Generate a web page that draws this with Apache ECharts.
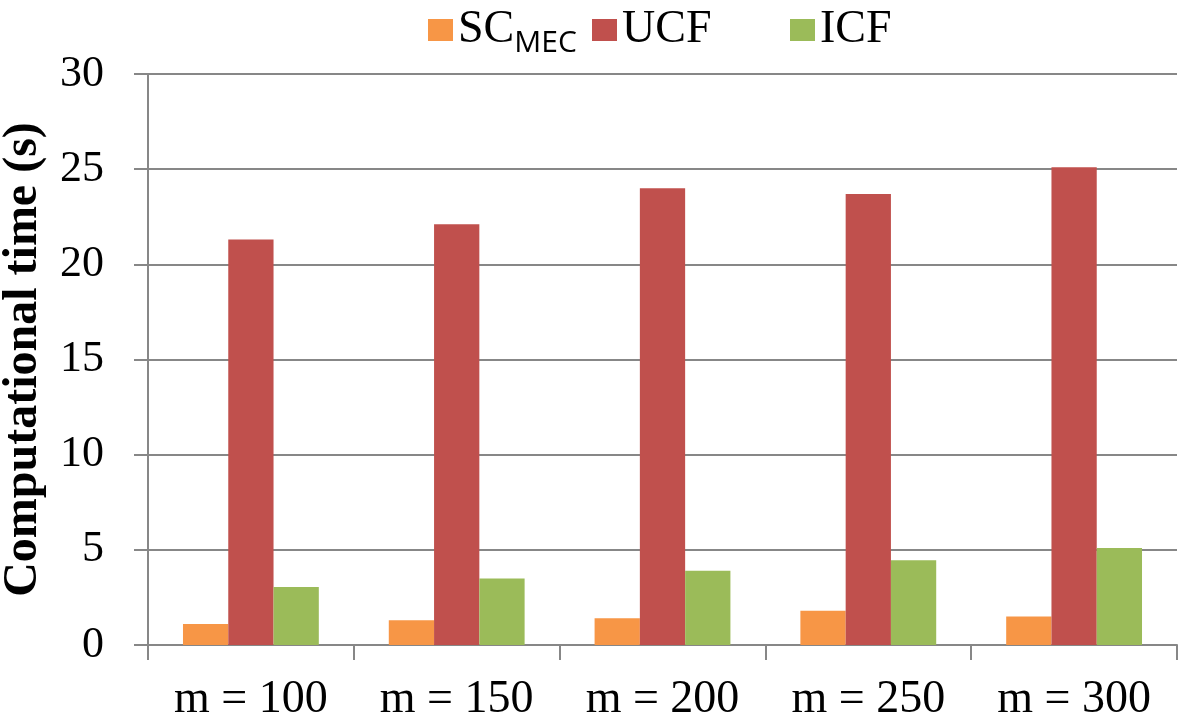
<!DOCTYPE html>
<html><head><meta charset="utf-8">
<script src="https://cdn.jsdelivr.net/npm/echarts@6/dist/echarts.min.js"></script>
<style>html,body{margin:0;padding:0;background:#fff}#c{width:1182px;height:719px}</style>
</head><body><div id="c"></div>
<script>
const categories = ['m = 100', 'm = 150', 'm = 200', 'm = 250', 'm = 300'];
const scMec = [1.1, 1.3, 1.4, 1.8, 1.5];
const ucf = [21.3, 22.1, 24.0, 23.7, 25.1];
const icf = [3.05, 3.5, 3.9, 4.45, 5.1];
const seriesNames = ['SC_MEC', 'UCF', 'ICF'];
const colors = ['#F79646', '#C0504D', '#9BBB59'];

const serif = '"Liberation Serif", "Times New Roman", serif';
const gridColor = '#878787';

const chart = echarts.init(document.getElementById('c'));
const legendBase = {
  top: 2, itemWidth: 25, itemHeight: 22, itemGap: 10,
  icon: 'rect', selectedMode: false,
  textStyle: {
    fontFamily: serif, fontSize: 46, color: '#000', padding: [0,0,0,0],
    rich: {
      main: {fontFamily: serif, fontSize: 46, color: '#000'},
      sub: {fontFamily: '"Open Sans", "Liberation Sans", sans-serif', fontSize: 30, color: '#000', verticalAlign: 'bottom', padding: [26,0,0,0]}
    }
  }
};
chart.setOption({
  animation: false,
  backgroundColor: '#fff',
  legend: [
    Object.assign({}, legendBase, {left: 423, data: [seriesNames[0]],
      formatter: () => '{main|SC}{sub|MEC}'}),
    Object.assign({}, legendBase, {left: 587, data: [seriesNames[1]]}),
    Object.assign({}, legendBase, {left: 785, data: [seriesNames[2]]})
  ],
  grid: {left: 148, right: 5, top: 74, bottom: 74, containLabel: false, outerBoundsMode: 'none'},
  xAxis: {
    type: 'category', data: categories, boundaryGap: true,
    axisLine: {show: true, lineStyle: {color: gridColor, width: 2}},
    axisTick: {show: true, length: 15, lineStyle: {color: gridColor, width: 2}},
    axisLabel: {fontFamily: serif, fontSize: 46, color: '#000', margin: 32}
  },
  yAxis: {
    type: 'value', min: 0, max: 30, interval: 5,
    name: 'Computational time (s)', nameLocation: 'middle', nameGap: 100,
    nameTextStyle: {fontFamily: serif, fontSize: 48, fontWeight: 'bold', color: '#000'},
    axisLine: {show: true, lineStyle: {color: gridColor, width: 2}},
    axisTick: {show: true, length: 14, lineStyle: {color: gridColor, width: 2}},
    axisLabel: {fontFamily: serif, fontSize: 44, color: '#000', margin: 44},
    splitLine: {show: true, lineStyle: {color: gridColor, width: 2}}
  },
  series: [
    {name: seriesNames[0], type: 'bar', data: scMec, itemStyle: {color: colors[0]}, barGap: '0%', barCategoryGap: '34%'},
    {name: seriesNames[1], type: 'bar', data: ucf, itemStyle: {color: colors[1]}, barGap: '0%', barCategoryGap: '34%'},
    {name: seriesNames[2], type: 'bar', data: icf, itemStyle: {color: colors[2]}, barGap: '0%', barCategoryGap: '34%'}
  ]
});
</script></body></html>
